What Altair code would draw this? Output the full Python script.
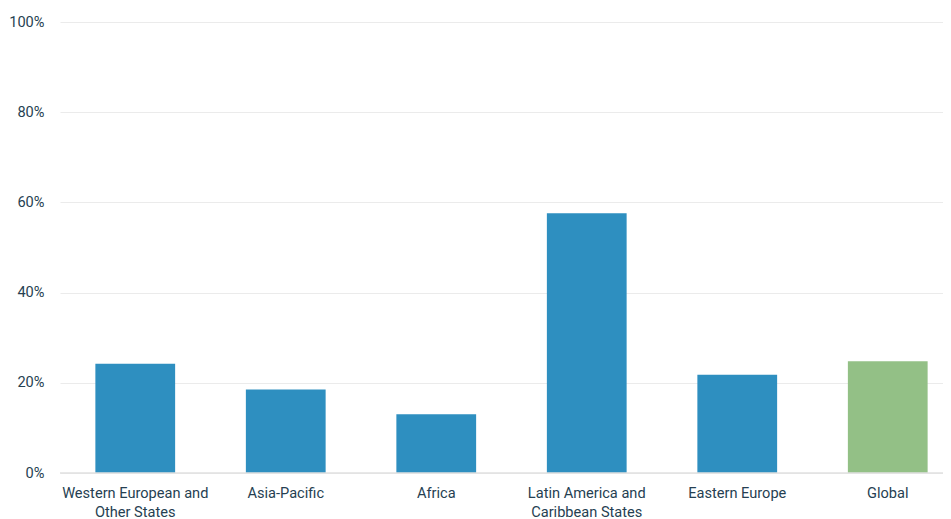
import altair as alt
import pandas as pd

regions = ["Western European and Other States", "Asia-Pacific", "Africa",
           "Latin America and Caribbean States", "Eastern Europe", "Global"]
label_lines = [["Western European and", "Other States"], ["Asia-Pacific"], ["Africa"],
               ["Latin America and", "Caribbean States"], ["Eastern Europe"], ["Global"]]
values = [0.242, 0.185, 0.130, 0.576, 0.218, 0.248]
groups = ["Region", "Region", "Region", "Region", "Region", "Global"]

df = pd.DataFrame({"region": regions, "value": values, "group": groups})

expr = ""
for r, lines in zip(regions, label_lines):
    arr = "[" + ",".join("'" + l + "'" for l in lines) + "]"
    expr += f"datum.label == '{r}' ? {arr} : "
expr += "datum.label"

TXT = "#263f52"
FS = 14.6

bars = alt.Chart(df).mark_bar().encode(
    x=alt.X("region:N", sort=regions, title=None,
            scale=alt.Scale(paddingInner=0.47, paddingOuter=0.235, range=[0, 903]),
            axis=alt.Axis(labelAngle=0, labelExpr=expr, labelFont="Roboto",
                          labelFontSize=FS, labelColor=TXT, ticks=False, domain=False,
                          labelPadding=12, labelLineHeight=19, labelBaseline="top")),
    y=alt.Y("value:Q", title=None,
            scale=alt.Scale(domain=[0, 1], nice=False),
            axis=alt.Axis(format=".0%", values=[0, 0.2, 0.4, 0.6, 0.8, 1.0],
                          labelFont="Roboto", labelFontSize=FS, labelColor=TXT,
                          ticks=False, domain=False, labelPadding=16,
                          gridColor="#ebebeb", gridWidth=1)),
    color=alt.Color("group:N", legend=None,
                    scale=alt.Scale(domain=["Region", "Global"], range=["#2e8fc0", "#93c086"])),
)

zero = alt.Chart(pd.DataFrame({"v": [0]})).mark_rule(color="#e0e0e0", strokeWidth=1.5).encode(
    y=alt.Y("v:Q"))

chart = alt.layer(bars, zero).properties(
    width=883, height=451,
    autosize=alt.AutoSizeParams(type="none"),
    padding={"left": 52, "top": 14, "right": 0, "bottom": 50},
).configure_view(stroke=None)

chart.save("out.html", embed_options={"renderer": "svg", "actions": False})
